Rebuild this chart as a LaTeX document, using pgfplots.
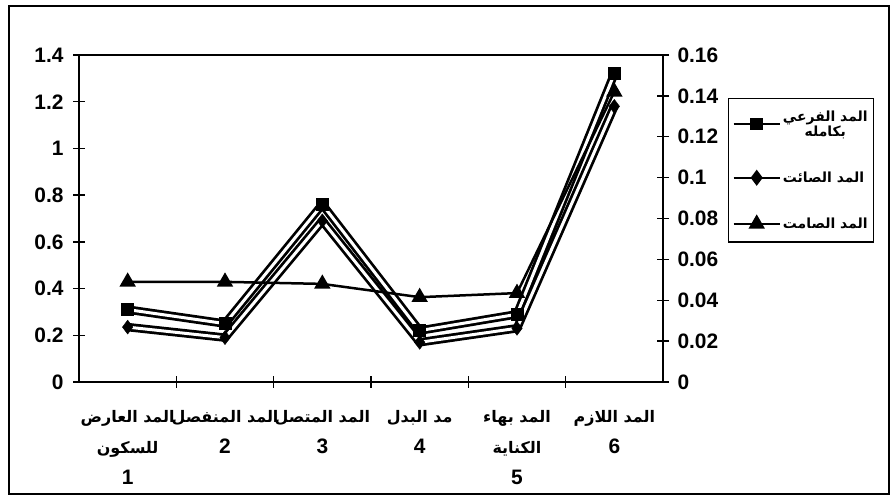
\documentclass[border=0pt]{standalone}
\usepackage{pgfplots}
\pgfplotsset{compat=1.18}
\usepackage{pgfplotstable}
\usepackage{fontspec}
\setmainfont{Liberation Sans}
\newfontfamily\arabicfont[Script=Arabic]{DejaVu Sans}
\TeXXeTstate=1
\newcommand\af{\arabicfont\bfseries\fontsize{16}{31}\selectfont}
\newcommand\afl{\arabicfont\bfseries\fontsize{14}{22}\selectfont}

\pgfplotstableread{
x y
1 0.31
2 0.25
3 0.76
4 0.22
5 0.29
6 1.32
}\tabA
\pgfplotstableread{
x y
1 0.235
2 0.19
3 0.69
4 0.17
5 0.23
6 1.18
}\tabB
\pgfplotstableread{
x y
1 0.049
2 0.049
3 0.048
4 0.0415
5 0.0435
6 0.142
}\tabC

\begin{document}
\begin{tikzpicture}
\path[use as bounding box] (0,0) rectangle (896bp,496bp);
\draw[line width=1.3bp] (9bp,2bp) rectangle (889bp,490bp);
\begin{axis}[
  at={(79bp,114bp)}, anchor=south west,
  scale only axis, width=584bp, height=327bp,
  xmin=0.5, xmax=6.5, ymin=0, ymax=1.4,
  xtick={1,2,3,4,5,6},
  xticklabels={
    {{\af\beginR المد العارض\endR}\\{\af\beginR للسكون\endR}\\1},
    {{\af\beginR المد المنفصل\endR}\\2},
    {{\af\beginR المد المتصل\endR}\\3},
    {{\af\beginR مد البدل\endR}\\4},
    {{\af\beginR المد بهاء\endR}\\{\af\beginR الكناية\endR}\\5},
    {{\af\beginR المد اللازم\endR}\\6}},
  minor xtick={1.5,2.5,3.5,4.5,5.5},
  ytick={0,0.2,0.4,0.6,0.8,1,1.2,1.4},
  xtick pos=bottom, ytick pos=left,
  tick align=center,
  major tick length=12bp, minor tick length=12bp,
  every tick/.style={black, line width=1.3bp},
  major x tick style={draw=none},
  axis line style={line width=1.6bp},
  tick label style={font=\bfseries\fontsize{21}{31}\selectfont},
  /pgf/number format/assume math mode=true,
  xticklabel style={align=center, anchor=north, yshift=-19bp},
  yticklabel style={xshift=-6bp},
  clip=false,
]
\addplot[black, line width=8.5bp, no marks, line join=round] table {\tabA};
\addplot[white, line width=3bp, no marks, line join=round] table {\tabA};
\addplot[black, line width=8.5bp, no marks, line join=round] table {\tabB};
\addplot[white, line width=3bp, no marks, line join=round] table {\tabB};
\addplot[only marks, mark=square*, mark size=6bp, black] table {\tabA};
\addplot[only marks, mark=diamond*, mark size=7bp, black] table {\tabB};
\end{axis}
\begin{axis}[
  at={(79bp,114bp)}, anchor=south west,
  scale only axis, width=584bp, height=327bp,
  xmin=0.5, xmax=6.5, ymin=0, ymax=0.16,
  axis x line=none, axis y line*=right,
  ytick={0,0.02,0.04,0.06,0.08,0.1,0.12,0.14,0.16},
  scaled y ticks=false,
  yticklabel style={/pgf/number format/fixed, /pgf/number format/precision=2, xshift=5bp},
  tick align=center,
  major tick length=12bp,
  every tick/.style={black, line width=1.3bp},
  axis line style={line width=1.6bp},
  tick label style={font=\bfseries\fontsize{21}{31}\selectfont},
  /pgf/number format/assume math mode=true,
  clip=false,
  legend style={at={(1.111,0.8685)}, anchor=north west, draw=black, line width=1.3bp,
    inner xsep=4bp, inner ysep=10bp, row sep=30bp,
    nodes={align=center, inner sep=2bp}},
  legend cell align=left,
  legend image code/.code={\draw[mark repeat=2,mark phase=2,#1] plot coordinates {(0bp,0bp) (23bp,0bp) (46bp,0bp)};},
]
\addlegendimage{black, line width=2.5bp, mark=square*, mark size=5bp}
\addlegendentry{{\afl\beginR المد الفرعي\endR}\\{\afl\beginR بكامله\endR}}
\addlegendimage{black, line width=2.5bp, mark=diamond*, mark size=6bp}
\addlegendentry{{\afl\beginR المد الصائت\endR}}
\addplot[black, line width=2.5bp, mark=triangle*, mark size=7bp, mark options={solid}] table {\tabC};
\addlegendentry{{\afl\beginR المد الصامت\endR}}
\end{axis}
\end{tikzpicture}
\end{document}
